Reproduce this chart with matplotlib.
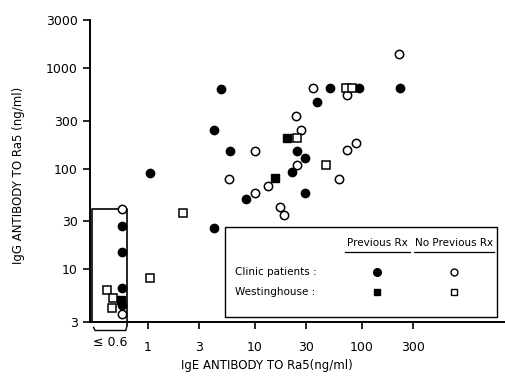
import matplotlib
matplotlib.use("Agg")
import matplotlib.pyplot as plt
from matplotlib.patches import Rectangle

# IgE (x) vs IgG (y) antibody to Ra5, ng/ml. x values below 0.6 sit in the "<=0.6" box
clinic_prev_x = [0.57, 0.57, 0.57, 0.57, 1.04, 4.8, 4.1, 5.8, 4.1, 8.2, 22.3, 24.5,
                 29.5, 29.5, 37.8, 50, 94, 226]
clinic_prev_y = [27, 15, 6.6, 4.4, 91, 620, 242, 150, 26, 50, 92, 150,
                 128, 57, 456, 640, 640, 640]
clinic_noprev_x = [0.57, 0.57, 5.75, 10.1, 10, 13.1, 17.1, 18.7, 24.5, 24.2, 26.7,
                   34.6, 72, 72, 88, 61, 223]
clinic_noprev_y = [39.6, 3.6, 79, 150, 57, 67, 42, 35, 109, 333, 242,
                   640, 538, 152, 180, 79, 1375]
west_prev_x = [0.56, 20, 15.4]
west_prev_y = [5.0, 203, 80]
west_noprev_x = [0.41, 0.47, 0.46, 1.04, 2.14, 24.5, 46, 71, 80]
west_noprev_y = [6.2, 5.2, 4.1, 8.3, 36.5, 203, 109, 640, 640]

x_ticks = [1, 3, 10, 30, 100, 300]
x_labels = ["1", "3", "10", "30", "100", "300"]
y_ticks = [3, 10, 30, 100, 300, 1000, 3000]
y_labels = ["3", "10", "30", "100", "300", "1000", "3000"]

W, H, DPI = 506, 376, 100
fig = plt.figure(figsize=(W / DPI, H / DPI), dpi=DPI)
ax = fig.add_axes([90 / W, (376 - 322) / H, (506 - 90) / W, (322 - 20) / H])
ax.set_xscale("log"); ax.set_yscale("log")
ax.set_xlim(0.287, 2218); ax.set_ylim(3, 3000)

for s in ("top", "right"):
    ax.spines[s].set_visible(False)
for s in ("left", "bottom"):
    ax.spines[s].set_linewidth(1.4)

ax.set_xticks(x_ticks); ax.set_xticklabels(x_labels)
ax.set_yticks(y_ticks); ax.set_yticklabels(y_labels)
ax.minorticks_off()
ax.tick_params(direction="out", length=5, width=1.2, labelsize=9, pad=4)
ax.tick_params(axis="x", pad=9)

ms_c, ms_s, mew = 6.0, 5.2, 1.1
ax.plot(clinic_prev_x, clinic_prev_y, "o", ms=ms_c, color="black", ls="none", clip_on=False)
ax.plot(clinic_noprev_x, clinic_noprev_y, "o", ms=ms_c, mfc="white", mec="black",
        mew=mew, ls="none", clip_on=False)
ax.plot(west_prev_x, west_prev_y, "s", ms=ms_s, color="black", ls="none", clip_on=False)
ax.plot(west_noprev_x, west_noprev_y, "s", ms=ms_s, mfc="white", mec="black",
        mew=mew, ls="none", clip_on=False)

# box around the "<= 0.6" column
ax.plot([0.30, 0.30, 0.64, 0.64], [3, 40, 40, 3], color="black", lw=1.2, zorder=1)
ax.plot([0.64, 0.64], [3, 2.75], color="black", lw=1.2, clip_on=False)
# bracket + label under it
ax.plot([0.31, 0.32, 0.62, 0.63], [2.65, 2.47, 2.47, 2.65], color="black", lw=1.0,
        clip_on=False)
ax.text(0.44, 2.2, "\u2264 0.6", ha="center", va="top", fontsize=9)

ax.set_xlabel("IgE ANTIBODY TO Ra5(ng/ml)", fontsize=8.5)
ax.xaxis.set_label_coords((267 - 90) / 416, -(359 - 322) / 302)
ax.set_ylabel("IgG ANTIBODY TO Ra5 (ng/ml)", fontsize=8.5)
ax.yaxis.set_label_coords(-(90 - 25) / 416, (322 - 175) / 302)

# legend table
tr = ax.transAxes
ax.add_patch(Rectangle((0.325, 0.017), 0.653, 0.298, transform=tr, fill=False,
                       edgecolor="black", lw=1.0))
ax.text(0.69, 0.262, "Previous Rx", transform=tr, ha="center", va="center", fontsize=7.5)
ax.text(0.875, 0.262, "No Previous Rx", transform=tr, ha="center", va="center", fontsize=7.5)
ax.plot([0.613, 0.77], [0.232, 0.232], transform=tr, color="black", lw=0.9)
ax.plot([0.78, 0.97], [0.232, 0.232], transform=tr, color="black", lw=0.9)
ax.text(0.349, 0.166, "Clinic patients :", transform=tr, ha="left", va="center", fontsize=7.5)
ax.text(0.349, 0.099, "Westinghouse :", transform=tr, ha="left", va="center", fontsize=7.5)
ax.plot([0.69], [0.166], "o", transform=tr, ms=5.5, color="black")
ax.plot([0.875], [0.166], "o", transform=tr, ms=5, mfc="white", mec="black", mew=1.0)
ax.plot([0.69], [0.099], "s", transform=tr, ms=4.5, color="black")
ax.plot([0.875], [0.099], "s", transform=tr, ms=4.5, mfc="white", mec="black", mew=1.0)

fig.savefig("out.png", dpi=DPI)
